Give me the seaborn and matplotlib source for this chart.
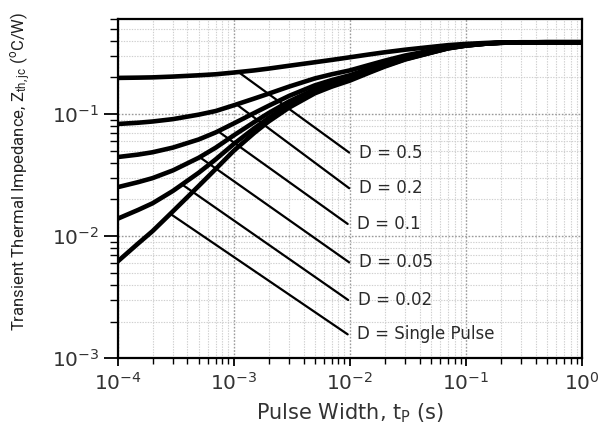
import numpy as np
import pandas as pd
import matplotlib
matplotlib.use("Agg")
import matplotlib.pyplot as plt
import matplotlib.ticker as mticker
import seaborn as sns

# Pulse width samples (s)
pulse_width = [1e-4, 1.5e-4, 2e-4, 3e-4, 5e-4, 7e-4, 1e-3, 1.5e-3, 2e-3, 3e-3, 5e-3, 7e-3,
               1e-2, 1.5e-2, 2e-2, 3e-2, 5e-2, 7e-2, 0.1, 0.15, 0.2, 0.3, 0.5, 1.0]

# Transient thermal impedance Zth,jc (degC/W) for each duty cycle
z_d050 = [0.198, 0.199, 0.200, 0.203, 0.208, 0.212, 0.219, 0.228, 0.236, 0.249, 0.266, 0.278,
          0.292, 0.309, 0.321, 0.337, 0.355, 0.367, 0.376, 0.383, 0.386, 0.388, 0.388, 0.388]
z_d020 = [0.083, 0.085, 0.087, 0.091, 0.099, 0.106, 0.118, 0.134, 0.147, 0.168, 0.196, 0.212,
          0.228, 0.254, 0.274, 0.302, 0.332, 0.353, 0.369, 0.380, 0.385, 0.387, 0.388, 0.388]
z_d010 = [0.0445, 0.0466, 0.0487, 0.0532, 0.0620, 0.0708, 0.0838, 0.102, 0.117, 0.141, 0.172, 0.190,
          0.208, 0.237, 0.259, 0.291, 0.325, 0.349, 0.366, 0.379, 0.384, 0.387, 0.388, 0.388]
z_d005 = [0.0252, 0.0277, 0.0299, 0.0346, 0.0439, 0.0531, 0.0669, 0.0859, 0.102, 0.127, 0.160, 0.179,
          0.198, 0.228, 0.252, 0.285, 0.321, 0.347, 0.365, 0.378, 0.384, 0.387, 0.388, 0.388]
z_d002 = [0.0139, 0.0164, 0.0186, 0.0235, 0.0331, 0.0426, 0.0568, 0.0764, 0.093, 0.119, 0.153, 0.172,
          0.192, 0.223, 0.248, 0.282, 0.319, 0.346, 0.364, 0.378, 0.384, 0.387, 0.388, 0.388]
z_single = [0.0062, 0.0087, 0.0110, 0.0160, 0.0258, 0.0355, 0.0500, 0.0700, 0.087, 0.113, 0.148, 0.168,
            0.188, 0.220, 0.245, 0.280, 0.318, 0.345, 0.364, 0.378, 0.384, 0.387, 0.388, 0.388]

curve_names = ["0.5", "0.2", "0.1", "0.05", "0.02", "Single Pulse"]
curve_values = [z_d050, z_d020, z_d010, z_d005, z_d002, z_single]

# Callout leaders: start on each curve, end near 10 ms where the label sits
leader_labels = ["D = 0.5", "D = 0.2", "D = 0.1", "D = 0.05", "D = 0.02", "D = Single Pulse"]
leader_start_x = [1.1e-3, 1.06e-3, 7.4e-4, 5.1e-4, 3.6e-4, 2.86e-4]
leader_start_y = [0.221, 0.120, 0.072, 0.0444, 0.0265, 0.0152]
leader_end_x = [9.9e-3, 9.9e-3, 9.6e-3, 9.9e-3, 9.7e-3, 9.6e-3]
leader_end_y = [0.0484, 0.0247, 0.0126, 0.0061, 0.0030, 0.00157]

x_ticks = [1e-4, 1e-3, 1e-2, 1e-1, 1e0]
y_ticks = [1e-3, 1e-2, 1e-1]

curves = pd.DataFrame({
    "t": np.tile(pulse_width, len(curve_names)),
    "z": np.concatenate(curve_values),
    "D": np.repeat(curve_names, len(pulse_width)),
})
leaders = pd.DataFrame({
    "t": leader_start_x + leader_end_x,
    "z": leader_start_y + leader_end_y,
    "label": leader_labels + leader_labels,
})

sns.set_style("white")
plt.rcParams["font.family"] = ["DejaVu Sans"]
plt.rcParams["mathtext.default"] = "regular"

fig = plt.figure(figsize=(6.03, 4.25), dpi=100)
ax = fig.add_axes([0.195, 0.157, 0.77, 0.798])
ax.set_xscale("log")
ax.set_yscale("log")

sns.lineplot(data=curves, x="t", y="z", hue="D", palette=["black"] * len(curve_names),
             estimator=None, sort=False, linewidth=3.3, legend=False, ax=ax,
             solid_capstyle="butt")
sns.lineplot(data=leaders, x="t", y="z", units="label", estimator=None, sort=False,
             color="black", linewidth=1.6, legend=False, ax=ax)

for lab, ex, ey in zip(leader_labels, leader_end_x, leader_end_y):
    ax.annotate(lab, xy=(ex, ey), xytext=(7, 0), textcoords="offset points",
                va="center", ha="left", fontsize=12, color="#2a2a2a",
                family=["DejaVu Sans"])

ax.set_xlim(1e-4, 1e0)
ax.set_ylim(1e-3, 0.6)

ax.xaxis.set_major_locator(mticker.FixedLocator(x_ticks))
ax.yaxis.set_major_locator(mticker.FixedLocator(y_ticks))
ax.xaxis.set_minor_locator(mticker.LogLocator(base=10, subs=np.arange(2, 10), numticks=20))
ax.yaxis.set_minor_locator(mticker.LogLocator(base=10, subs=np.arange(2, 10), numticks=20))
ax.xaxis.set_major_formatter(mticker.LogFormatterSciNotation())
ax.yaxis.set_major_formatter(mticker.LogFormatterSciNotation())
ax.xaxis.set_minor_formatter(mticker.NullFormatter())
ax.yaxis.set_minor_formatter(mticker.NullFormatter())

ax.grid(which="major", linestyle=(0, (1.2, 1.2)), color="#9a9a9a", linewidth=1.0)
ax.grid(which="minor", linestyle=(0, (1.2, 1.2)), color="#cfcfcf", linewidth=0.8)
ax.set_axisbelow(True)

ax.tick_params(axis="x", which="major", direction="out", length=6, width=1.3,
               color="black", labelsize=14.5, labelcolor="#333333", pad=4)
ax.tick_params(axis="x", which="minor", direction="out", length=4, width=1.0, color="black")
ax.tick_params(axis="y", which="major", direction="out", length=10, width=1.3,
               color="black", labelsize=14.5, labelcolor="#333333", pad=3)
ax.tick_params(axis="y", which="minor", direction="out", length=6, width=1.0, color="black")
ax.xaxis.set_ticks_position("bottom")
ax.yaxis.set_ticks_position("left")

for sp in ax.spines.values():
    sp.set_visible(True)
    sp.set_color("black")
    sp.set_linewidth(1.6)

ax.set_xlabel("Pulse Width, t$_{P}$ (s)", fontsize=15, color="#333333", labelpad=5)
ax.set_ylabel("Transient Thermal Impedance, Z$_{th,jc}$ ($^{o}$C/W)", fontsize=12,
              color="#222222", family=["Roboto", "DejaVu Sans"])
ax.yaxis.set_label_coords(-0.183, 0.55)

fig.savefig("out.png", dpi=100)
